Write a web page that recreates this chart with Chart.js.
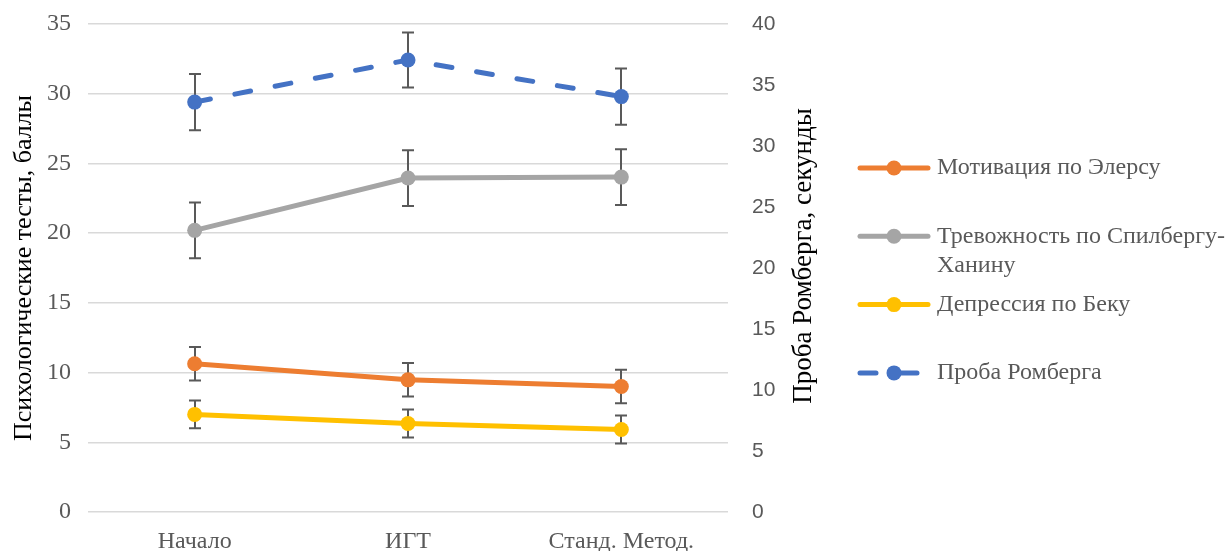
<!DOCTYPE html>
<html><head><meta charset="utf-8">
<script src="https://cdn.jsdelivr.net/npm/chart.js@4/dist/chart.umd.min.js"></script>
<style>html,body{margin:0;padding:0;background:#fff}#wrap{width:1226px;height:551px}</style>
</head><body><div id="wrap"><canvas id="c" width="1226" height="551"></canvas></div>
<script>
// ---- data ----
const categories = ['Начало', 'ИГТ', 'Станд. Метод.'];
const motivation = [10.63, 9.48, 9.0];
const motivationErr = [1.2, 1.2, 1.2];
const anxiety = [20.2, 23.95, 24.02];
const anxietyErr = [2.0, 2.0, 2.0];
const depression = [7.0, 6.35, 5.92];
const depressionErr = [1.0, 1.0, 1.0];
const romberg = [33.6, 37.05, 34.05];
const rombergErr = [2.3, 2.25, 2.3];
const leftTicks = [0, 5, 10, 15, 20, 25, 30, 35];
const rightTicks = [0, 5, 10, 15, 20, 25, 30, 35, 40];
const leftTitle = 'Психологические тесты, баллы';
const rightTitle = 'Проба Ромберга, секунды';

const SERIF = '"Liberation Serif", "Times New Roman", serif';
const SANS = '"Liberation Sans", Arial, sans-serif';

const errorBars = {
  id: 'errorBars',
  beforeDatasetsDraw(chart) {
    const ctx = chart.ctx;
    chart.data.datasets.forEach((ds, i) => {
      if (!ds.errors) return;
      const meta = chart.getDatasetMeta(i);
      const ys = chart.scales[ds.yAxisID || 'y'];
      ctx.save();
      ctx.strokeStyle = '#595959';
      ctx.lineWidth = 2;
      meta.data.forEach((pt, j) => {
        const v = ds.data[j], e = ds.errors[j];
        const x = Math.round(pt.x);
        const y1 = ys.getPixelForValue(v + e), y2 = ys.getPixelForValue(v - e);
        ctx.beginPath();
        ctx.moveTo(x, y1); ctx.lineTo(x, y2);
        ctx.moveTo(x - 6, y1); ctx.lineTo(x + 6, y1);
        ctx.moveTo(x - 6, y2); ctx.lineTo(x + 6, y2);
        ctx.stroke();
      });
      ctx.restore();
    });
  }
};

const rightAxisTitle = {
  id: 'rightAxisTitle',
  afterDraw(chart) {
    const s = chart.scales.y1, ctx = chart.ctx, a = chart.chartArea;
    ctx.save();
    ctx.translate(s.right - 14, (a.top + a.bottom) / 2 - 12);
    ctx.rotate(-Math.PI / 2);
    ctx.font = '27px ' + SERIF;
    ctx.fillStyle = '#000';
    ctx.textAlign = 'center';
    ctx.textBaseline = 'middle';
    ctx.fillText(rightTitle, 0, 0);
    ctx.restore();
  }
};

const sideLegend = {
  id: 'sideLegend',
  afterDraw(chart) {
    const ctx = chart.ctx;
    const x0 = 860, x1 = 928, mx = 894, tx = 937, top = 168, step = 68.3, lh = 29;
    const maxW = 293;
    ctx.save();
    ctx.font = '24px ' + SERIF;
    chart.data.datasets.forEach((ds, i) => {
      const y = top + i * step;
      ctx.save();
      ctx.strokeStyle = ds.borderColor;
      ctx.lineWidth = ds.borderWidth;
      ctx.lineCap = 'round';
      ctx.setLineDash(ds.borderDash || []);
      ctx.beginPath();
      ctx.moveTo(x0, y); ctx.lineTo(x1, y);
      ctx.stroke();
      ctx.setLineDash([]);
      ctx.fillStyle = ds.pointBackgroundColor;
      ctx.beginPath();
      ctx.arc(mx, y, ds.pointRadius, 0, Math.PI * 2);
      ctx.fill();
      ctx.restore();
      const tokens = ds.label.split(/(?<=[\s-])/);
      const lines = [];
      let cur = '';
      tokens.forEach(t => {
        if (cur && ctx.measureText((cur + t).trimEnd()).width > maxW) { lines.push(cur.trimEnd()); cur = t; }
        else cur += t;
      });
      if (cur) lines.push(cur.trimEnd());
      ctx.fillStyle = '#595959';
      ctx.textAlign = 'left';
      ctx.textBaseline = 'middle';
      lines.forEach((l, k) => ctx.fillText(l, tx, y + k * lh));
    });
    ctx.restore();
  }
};

function series(label, data, errors, color, axis, dash) {
  return {
    label, data, errors,
    yAxisID: axis,
    borderColor: color,
    backgroundColor: color,
    pointBackgroundColor: color,
    pointBorderColor: color,
    pointRadius: 7.5,
    pointBorderWidth: 0,
    borderWidth: 5,
    borderDash: dash || [],
    borderCapStyle: 'round',
    tension: 0,
    fill: false
  };
}

new Chart(document.getElementById('c'), {
  type: 'line',
  data: {
    labels: categories,
    datasets: [
      series('Мотивация по Элерсу', motivation, motivationErr, '#ED7D31', 'y'),
      series('Тревожность по Спилбергу-Ханину', anxiety, anxietyErr, '#A5A5A5', 'y'),
      series('Депрессия по Беку', depression, depressionErr, '#FFC000', 'y'),
      series('Проба Ромберга', romberg, rombergErr, '#4472C4', 'y1', [16, 25])
    ]
  },
  options: {
    responsive: false,
    animation: false,
    devicePixelRatio: 1,
    layout: { padding: { left: 0, right: 408, top: 24, bottom: 0 } },
    plugins: { legend: { display: false }, tooltip: { enabled: false } },
    scales: {
      x: {
        type: 'category',
        offset: true,
        grid: { display: false },
        border: { display: false },
        ticks: { font: { family: SERIF, size: 24 }, color: '#595959', padding: 7, maxRotation: 0 },
        afterFit: s => { s.height = 39; s.paddingLeft = 0; s.paddingRight = 0; }
      },
      y: {
        position: 'left',
        min: 0, max: 35,
        afterBuildTicks: s => { s.ticks = leftTicks.map(v => ({ value: v })); },
        grid: { color: '#D9D9D9', lineWidth: 1.5, drawTicks: false },
        border: { display: false },
        ticks: { font: { family: SERIF, size: 24 }, color: '#595959', padding: 17 },
        title: { display: true, text: leftTitle, font: { family: SERIF, size: 26 }, color: '#000', padding: { top: 9, bottom: 0 } },
        afterFit: s => { s.width = 88; s.paddingTop = 0; s.paddingBottom = 0; }
      },
      y1: {
        position: 'right',
        min: 0, max: 40,
        afterBuildTicks: s => { s.ticks = rightTicks.map(v => ({ value: v })); },
        grid: { display: false, drawTicks: false },
        border: { display: false },
        ticks: { font: { family: SANS, size: 21 }, color: '#595959', padding: 24 },
        afterFit: s => { s.width = 90; s.paddingTop = 0; s.paddingBottom = 0; }
      }
    }
  },
  plugins: [errorBars, rightAxisTitle, sideLegend]
});
</script>
</body></html>
